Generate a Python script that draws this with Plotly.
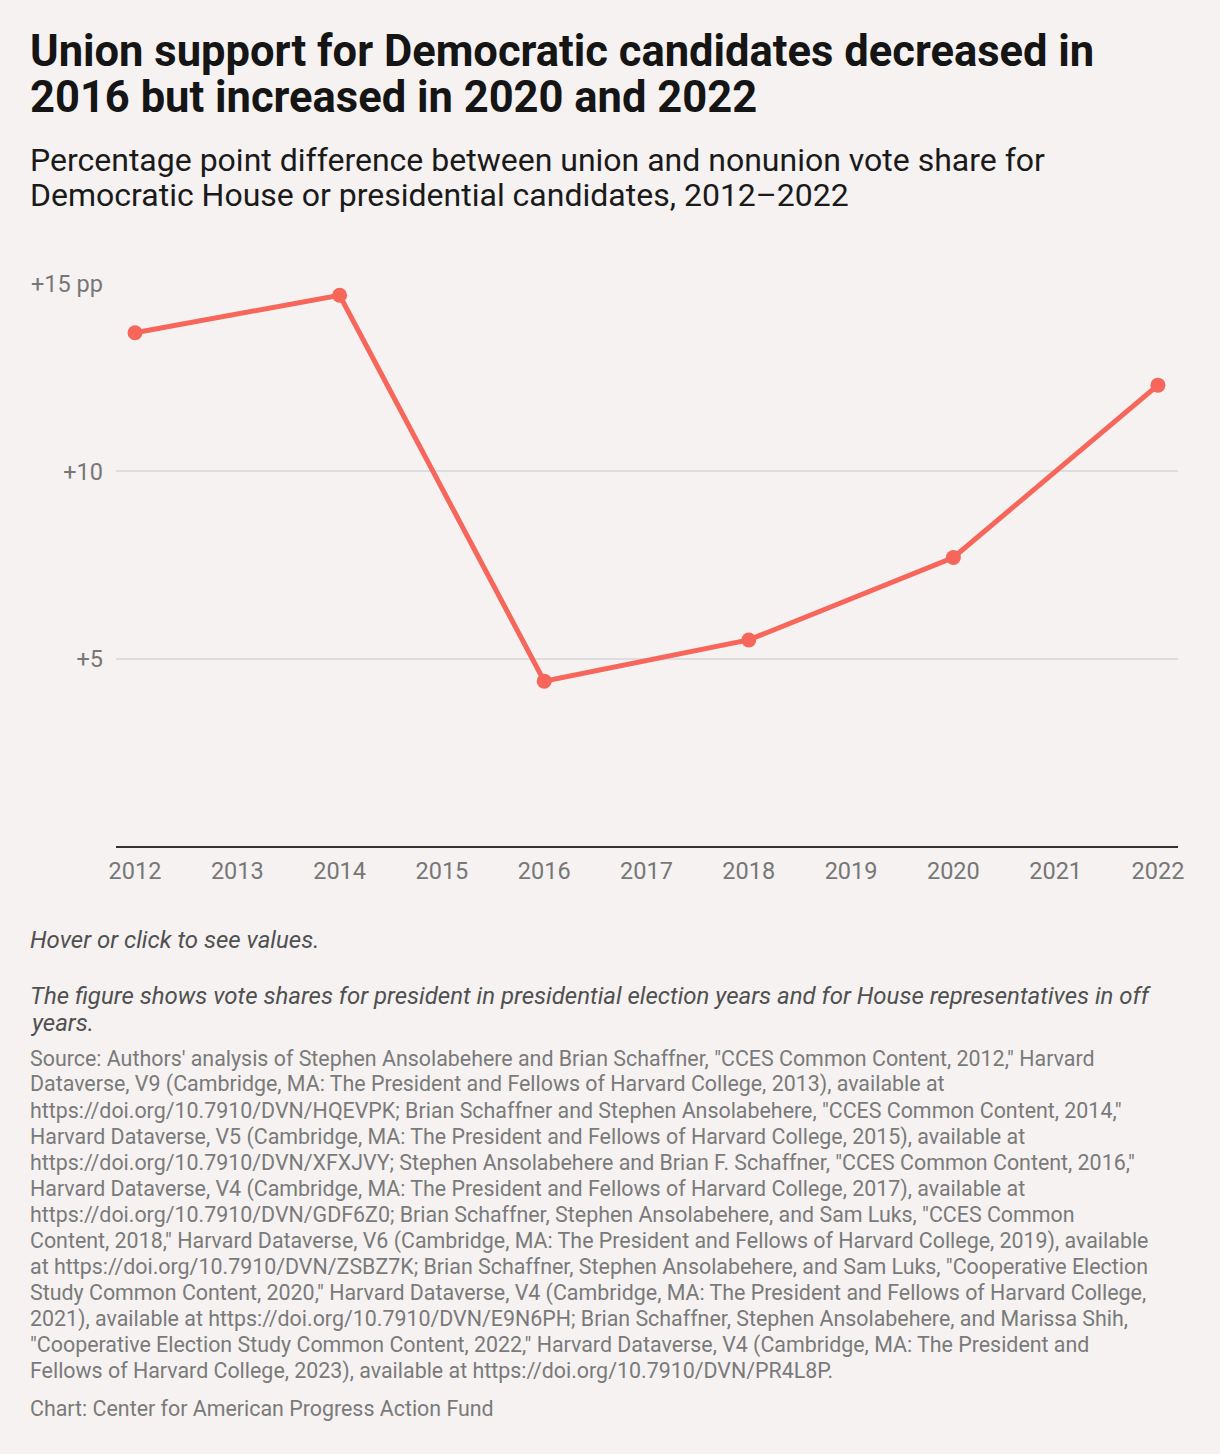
import plotly.graph_objects as go

# data
years = [2012, 2014, 2016, 2018, 2020, 2022]
gap_pp = [13.7, 14.7, 4.4, 5.5, 7.7, 12.3]
y_ticks = [5, 10, 15]
y_ticklabels = ["+5", "+10", "+15 pp"]
x_ticks = list(range(2012, 2023))

title_lines = [
    "Union support for Democratic candidates decreased in",
    "2016 but increased in 2020 and 2022",
]
subtitle_lines = [
    "Percentage point difference between union and nonunion vote share for",
    "Democratic House or presidential candidates, 2012\u20132022",
]
note_lines = [
    "The figure shows vote shares for president in presidential election years and for House representatives in off",
    "years.",
]
source_lines = [
    "Source: Authors' analysis of Stephen Ansolabehere and Brian Schaffner, \"CCES Common Content, 2012,\" Harvard",
    "Dataverse, V9 (Cambridge, MA: The President and Fellows of Harvard College, 2013), available at",
    "https://doi.org/10.7910/DVN/HQEVPK; Brian Schaffner and Stephen Ansolabehere, \"CCES Common Content, 2014,\"",
    "Harvard Dataverse, V5 (Cambridge, MA: The President and Fellows of Harvard College, 2015), available at",
    "https://doi.org/10.7910/DVN/XFXJVY; Stephen Ansolabehere and Brian F. Schaffner, \"CCES Common Content, 2016,\"",
    "Harvard Dataverse, V4 (Cambridge, MA: The President and Fellows of Harvard College, 2017), available at",
    "https://doi.org/10.7910/DVN/GDF6Z0; Brian Schaffner, Stephen Ansolabehere, and Sam Luks, \"CCES Common",
    "Content, 2018,\" Harvard Dataverse, V6 (Cambridge, MA: The President and Fellows of Harvard College, 2019), available",
    "at https://doi.org/10.7910/DVN/ZSBZ7K; Brian Schaffner, Stephen Ansolabehere, and Sam Luks, \"Cooperative Election",
    "Study Common Content, 2020,\" Harvard Dataverse, V4 (Cambridge, MA: The President and Fellows of Harvard College,",
    "2021), available at https://doi.org/10.7910/DVN/E9N6PH; Brian Schaffner, Stephen Ansolabehere, and Marissa Shih,",
    "\"Cooperative Election Study Common Content, 2022,\" Harvard Dataverse, V4 (Cambridge, MA: The President and",
    "Fellows of Harvard College, 2023), available at https://doi.org/10.7910/DVN/PR4L8P.",
]

BG = "#f5f2f1"
RED = "#f7665a"
W, H = 1220, 1454
L, R, T, B = 116, 1178, 284, 846.5


def px(x):
    return (x - L) / (R - L)


def py(y):
    return (B - y) / (B - T)


fig = go.Figure()
fig.add_trace(go.Scatter(
    x=years, y=gap_pp, mode="lines+markers",
    line=dict(color=RED, width=5),
    marker=dict(color=RED, size=15),
    cliponaxis=False,
    hovertemplate="%{x}: +%{y:.1f} pp<extra></extra>",
))

ann = []


def text(x, y, s, size, color, family="Roboto", bold=False, italic=False):
    if bold:
        s = f"<b>{s}</b>"
    if italic:
        s = f"<i>{s}</i>"
    ann.append(dict(
        x=px(x), y=py(y), xref="paper", yref="paper", text=s,
        showarrow=False, xanchor="left", yanchor="middle", align="left",
        font=dict(family=family, size=size, color=color),
    ))


LEFT = 28
for i, s in enumerate(title_lines):
    text(LEFT, 51 + i * 46, s, 43.5, "#151515", bold=True)
for i, s in enumerate(subtitle_lines):
    text(LEFT, 160 + i * 35, s, 32, "#1a1a1a")
text(LEFT, 941, "Hover or click to see values.", 24, "#505050", italic=True)
for i, s in enumerate(note_lines):
    text(LEFT, 997 + i * 27, s, 24, "#505050", italic=True)
for i, s in enumerate(source_lines):
    text(LEFT, 1059 + i * 26.1, s, 21.4, "#7a7a7a")
text(LEFT, 1409, "Chart: Center for American Progress Action Fund", 21.4, "#7a7a7a")

fig.update_layout(
    width=W, height=H,
    margin=dict(l=L, r=W - R, t=T, b=H - B),
    paper_bgcolor=BG, plot_bgcolor=BG,
    showlegend=False,
    font=dict(family="Roboto", color="#777777"),
    annotations=ann,
    xaxis=dict(
        range=[2011.814, 2022.196], tickvals=x_ticks,
        showgrid=False, zeroline=False, fixedrange=True,
        showline=True, linecolor="#333333", linewidth=2,
        ticks="", ticklabelstandoff=3,
        tickfont=dict(size=23.5, color="#777777"),
    ),
    yaxis=dict(
        range=[0, 15], tickvals=y_ticks, ticktext=y_ticklabels,
        showgrid=True, gridcolor="#dddddd", gridwidth=1.5,
        zeroline=False, showline=False, ticks="", fixedrange=True,
        ticklabelstandoff=12,
        tickfont=dict(size=23.5, color="#777777"),
    ),
)

fig.write_html("out.html", config={"displayModeBar": False},
               post_script="document.body.style.margin='0';")
